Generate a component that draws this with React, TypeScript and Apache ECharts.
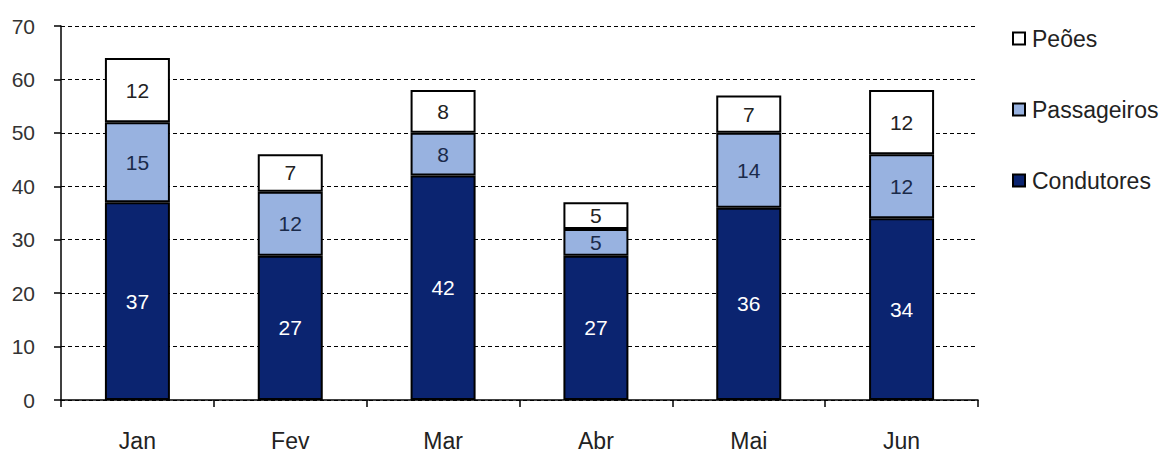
import React, { useEffect, useRef } from "react";
import * as echarts from "echarts";

const categories = ["Jan", "Fev", "Mar", "Abr", "Mai", "Jun"];
const condutores = [37, 27, 42, 27, 36, 34];
const passageiros = [15, 12, 8, 5, 14, 12];
const peoes = [12, 7, 8, 5, 7, 12];

const FONT = "'Liberation Sans', Arial, sans-serif";

export default function App() {
  const ref = useRef<HTMLDivElement>(null);
  useEffect(() => {
    if (!ref.current) return;
    const chart = echarts.init(ref.current, undefined, { renderer: "svg" });
    const barBase = {
      type: "bar",
      stack: "total",
      barWidth: 65,
      animation: false,
    };
    chart.setOption({
      animation: false,
      backgroundColor: "#ffffff",
      textStyle: { fontFamily: FONT },
      grid: { left: 61, top: 26, right: 189, bottom: 52, containLabel: false, outerBoundsMode: "none" },
      legend: {
        orient: "vertical",
        left: 1012,
        top: 27,
        padding: 0,
        itemWidth: 12,
        itemHeight: 12,
        itemGap: 48,
        icon: "rect",
        textStyle: { fontSize: 23, color: "#222", fontFamily: FONT, padding: [0, 0, 0, 2] },
        data: ["Peões", "Passageiros", "Condutores"],
      },
      xAxis: {
        type: "category",
        data: categories,
        axisLine: { lineStyle: { color: "#000", width: 1.5 } },
        axisTick: { show: true, alignWithLabel: false, length: 7, lineStyle: { color: "#000", width: 1.5 } },
        axisLabel: { fontSize: 23, lineHeight: 23, color: "#222", margin: 29, fontFamily: FONT },
      },
      yAxis: {
        type: "value",
        min: 0,
        max: 70,
        interval: 10,
        axisLine: { show: true, lineStyle: { color: "#000", width: 1.5 } },
        axisTick: { show: true, length: 7, lineStyle: { color: "#000", width: 1.5 } },
        axisLabel: { fontSize: 21, color: "#333", margin: 26, fontFamily: FONT },
        splitLine: { show: true, lineStyle: { color: "#000", type: [4, 3], width: 1 } },
      },
      series: [
        {
          ...barBase,
          name: "Condutores",
          data: condutores,
          itemStyle: { color: "#0b2470", borderColor: "#000", borderWidth: 2 },
          label: { show: true, position: "inside", color: "#fff", fontSize: 21, fontFamily: FONT },
        },
        {
          ...barBase,
          name: "Passageiros",
          data: passageiros,
          itemStyle: { color: "#98b2e0", borderColor: "#000", borderWidth: 2 },
          label: { show: true, position: "inside", color: "#1a2a4a", fontSize: 21, fontFamily: FONT },
        },
        {
          ...barBase,
          name: "Peões",
          data: peoes,
          itemStyle: { color: "#ffffff", borderColor: "#000", borderWidth: 2 },
          label: { show: true, position: "inside", color: "#222", fontSize: 21, fontFamily: FONT },
        },
      ],
    });
    return () => chart.dispose();
  }, []);
  return (
    <div
      ref={ref}
      style={{ position: "absolute", left: 0, top: 0, width: 1167, height: 452 }}
    />
  );
}
